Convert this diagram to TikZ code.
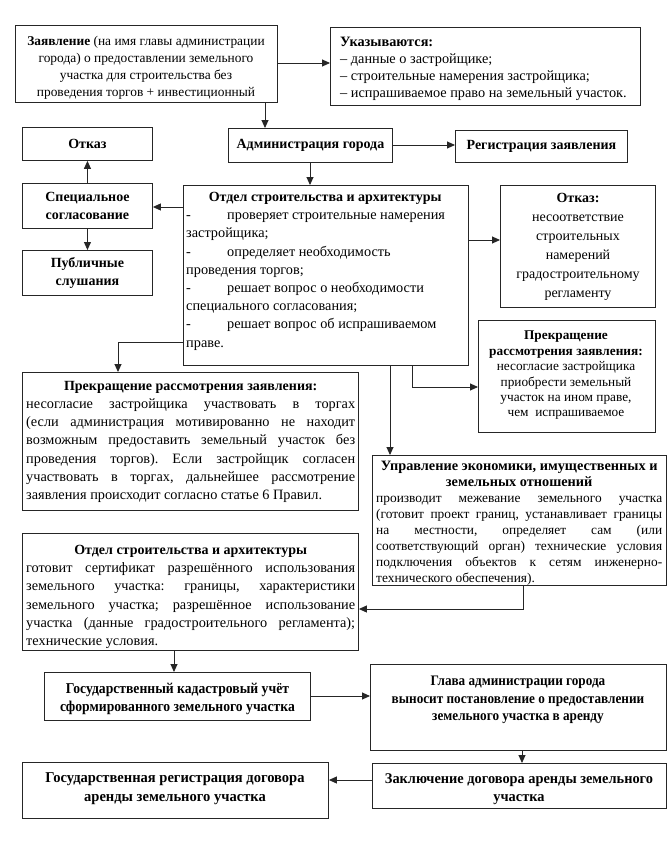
\documentclass[tikz,border=0pt]{standalone}
\usepackage{fontspec}
\setmainfont{Liberation Serif}
\newfontfamily\narrowfont[FakeStretch=0.91]{Liberation Serif}
\newfontfamily\wideboldfont[FakeStretch=0.97]{Liberation Serif}
\usetikzlibrary{arrows.meta,calc}
\frenchspacing
\begin{document}
\begin{tikzpicture}[x=1pt,y=-1pt,
  box/.style={draw=black!85, line width=0.9pt, anchor=north west, inner sep=0pt},
  txt/.style={inner sep=0pt, align=center, font=\fontsize{14.3}{17}\selectfont},
  jtxt/.style={inner sep=0pt, anchor=north west, align=justify, font=\fontsize{14.3}{18.2}\selectfont},
  btxt/.style={inner sep=0pt, align=center, font=\fontsize{14}{17.5}\selectfont\bfseries},
  ntxt/.style={inner sep=0pt, align=center, font=\narrowfont\fontsize{15}{18}\selectfont\bfseries},
  arr/.style={draw=black!85, line width=0.9pt, -{Triangle[length=8pt,width=7pt]}},
]
\clip (0,0) rectangle (668,844);
\fill[white] (0,0) rectangle (668,844);

% boxes
\node[box, minimum width=262pt, minimum height=77pt] (zayav) at (15,25) {};
\node[box, minimum width=310pt, minimum height=78pt] (ukaz) at (330,27) {};
\node[box, minimum width=130pt, minimum height=33pt] (otkazL) at (22,127) {};
\node[box, minimum width=164pt, minimum height=34pt] (admin) at (228,128) {};
\node[box, minimum width=172pt, minimum height=32pt] (reg) at (455,130) {};
\node[box, minimum width=130pt, minimum height=45pt] (spec) at (22,183) {};
\node[box, minimum width=130pt, minimum height=45pt] (publ) at (22,250) {};
\node[box, minimum width=285pt, minimum height=180pt] (otdel1) at (183,185) {};
\node[box, minimum width=155pt, minimum height=122pt] (otkazR) at (500,185) {};
\node[box, minimum width=177pt, minimum height=112pt] (prekrR) at (478,320) {};
\node[box, minimum width=336pt, minimum height=138pt] (prekrL) at (22,372) {};
\node[box, minimum width=294pt, minimum height=130pt] (upr) at (372,455) {};
\node[box, minimum width=336pt, minimum height=117pt] (otdel2) at (22,533) {};
\node[box, minimum width=266pt, minimum height=48pt] (kadastr) at (44,672) {};
\node[box, minimum width=296pt, minimum height=86pt] (glava) at (370,664) {};
\node[box, minimum width=294pt, minimum height=45pt] (zakl) at (372,763) {};
\node[box, minimum width=306pt, minimum height=56pt] (gosreg) at (22,762) {};

% texts
\node[txt, anchor=north, font=\fontsize{13.4}{17}\selectfont] (zayavT) at (146,36) {\textbf{Заявление} (на имя главы администрации\\города) о предоставлении земельного\\участка для строительства без\\проведения торгов + инвестиционный};
\node[txt, anchor=north west, align=left] (ukazT) at (340,37) {\textbf{Указываются:}\\– данные о застройщике;\\– строительные намерения застройщика;\\– испрашиваемое право на земельный участок.};
\node[btxt] (otkazLT) at (otkazL.center) {Отказ};
\node[btxt] (adminT) at (admin.center) {Администрация города};
\node[btxt] (regT) at (reg.center) {Регистрация заявления};
\node[btxt] (specT) at (spec.center) {Специальное\\согласование};
\node[btxt] (publT) at (publ.center) {Публичные\\слушания};
\node[jtxt, text width=278pt] (otdel1T) at (186,192) {\noindent\makebox[\linewidth][c]{\bfseries\fontsize{14}{18}\selectfont Отдел строительства и архитектуры}\\
\makebox[41pt][l]{-}проверяет строительные намерения\\
застройщика;\\
\makebox[41pt][l]{-}определяет необходимость\\
проведения торгов;\\
\makebox[41pt][l]{-}решает вопрос о необходимости\\
специального согласования;\\
\makebox[41pt][l]{-}решает вопрос об испрашиваемом\\
праве.};
\node[txt, anchor=north, font=\fontsize{14}{19}\selectfont] (otkazRT) at (578,193) {\textbf{Отказ:}\\несоответствие\\строительных\\намерений\\градостроительному\\регламенту};
\node[txt, anchor=north, font=\fontsize{13.3}{15.4}\selectfont] (prekrRT) at (566,331) {{\fontsize{13.3}{15.4}\selectfont\bfseries Прекращение}\\{\fontsize{13.3}{15.4}\selectfont\bfseries рассмотрения заявления:}\\несогласие застройщика\\приобрести земельный\\участок на ином праве,\\чем\ \ испрашиваемое};
\node[jtxt, text width=329pt] (prekrLT) at (26,381) {\noindent\makebox[\linewidth][c]{\bfseries\fontsize{14}{18}\selectfont Прекращение рассмотрения заявления:}\\
\makebox[\linewidth][s]{несогласие застройщика участвовать в торгах}\\
\makebox[\linewidth][s]{(если администрация мотивированно не находит}\\
\makebox[\linewidth][s]{возможным предоставить земельный участок без}\\
\makebox[\linewidth][s]{проведения торгов). Если застройщик согласен}\\
\makebox[\linewidth][s]{участвовать в торгах, дальнейшее рассмотрение}\\
заявления происходит согласно статье 6 Правил.};
\node[jtxt, text width=286pt, font=\fontsize{13.4}{16}\selectfont] (uprT) at (376,461) {\noindent\makebox[\linewidth][c]{\bfseries\fontsize{14.3}{16}\selectfont Управление экономики, имущественных и}\\
\makebox[\linewidth][c]{\bfseries\fontsize{14.3}{16}\selectfont земельных отношений}\\
\makebox[\linewidth][s]{производит межевание земельного участка}\\
\makebox[\linewidth][s]{(готовит проект границ, устанавливает границы}\\
\makebox[\linewidth][s]{на местности, определяет сам (или}\\
\makebox[\linewidth][s]{соответствующий орган) технические условия}\\
\makebox[\linewidth][s]{подключения объектов к сетям инженерно-}\\
технического обеспечения).};
\node[jtxt, text width=329pt] (otdel2T) at (26,545) {\noindent\makebox[\linewidth][c]{\bfseries\fontsize{14}{18}\selectfont Отдел строительства и архитектуры}\\
\makebox[\linewidth][s]{готовит сертификат разрешённого использования}\\
\makebox[\linewidth][s]{земельного участка: границы, характеристики}\\
\makebox[\linewidth][s]{земельного участка; разрешённое использование}\\
\makebox[\linewidth][s]{участка (данные градостроительного регламента);}\\
технические условия.};
\node[ntxt] (kadastrT) at ($(kadastr.center)+(0,2)$) {Государственный кадастровый учёт\\сформированного земельного участка};
\node[ntxt, anchor=north, font=\narrowfont\fontsize{14.5}{17.5}\selectfont\bfseries] (glavaT) at (518,676) {Глава администрации города\\выносит постановление о предоставлении\\земельного участка в аренду};
\node[ntxt, anchor=north, font=\wideboldfont\fontsize{14.8}{18.5}\selectfont\bfseries] (zaklT) at (519,773) {Заключение договора аренды земельного\\участка};
\node[ntxt, anchor=north, font=\wideboldfont\fontsize{15}{19}\selectfont\bfseries] (gosregT) at (175,772) {Государственная регистрация договора\\аренды земельного участка};

% connectors
\draw[arr] (zayav.east |- 0,63) -- (ukaz.west |- 0,63);
\draw[arr] (265,0 |- zayav.south) -- (265,0 |- admin.north);
\draw[arr] (admin.east |- 0,145) -- (reg.west |- 0,145);
\draw[arr] (310,0 |- admin.south) -- (310,0 |- otdel1.north);
\draw[arr] (otdel1.west |- 0,207) -- (spec.east |- 0,207);
\draw[arr] (spec.north) -- (otkazL.south);
\draw[arr] (spec.south) -- (publ.north);
\draw[arr] (otdel1.east |- 0,240) -- (otkazR.west |- 0,240);
\draw[arr] (412,0 |- otdel1.south) |- (prekrR.west |- 0,387);
\draw[arr] (390,0 |- otdel1.south) -- (390,0 |- upr.north);
\draw[arr] (otdel1.west |- 0,342) -| (118,0 |- prekrL.north);
\draw[arr] (523,0 |- upr.south) |- (otdel2.east |- 0,609);
\draw[arr] (174,0 |- otdel2.south) -- (174,0 |- kadastr.north);
\draw[arr] (kadastr.east |- 0,696) -- (glava.west |- 0,696);
\draw[arr] (522,0 |- glava.south) -- (522,0 |- zakl.north);
\draw[arr] (zakl.west |- 0,780) -- (gosreg.east |- 0,780);
\end{tikzpicture}
\end{document}
